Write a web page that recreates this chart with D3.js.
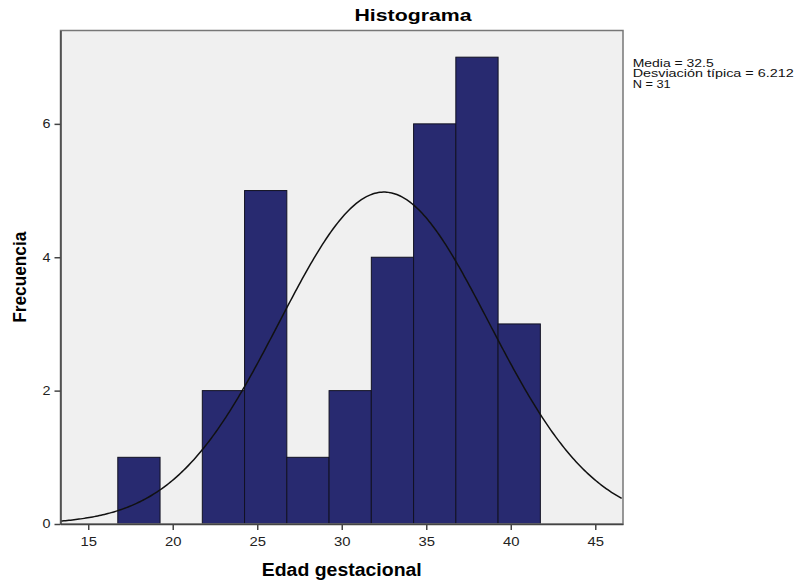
<!DOCTYPE html>
<html>
<head>
<meta charset="utf-8">
<script src="https://cdn.jsdelivr.net/npm/d3@7"></script>
<style>
  body { margin: 0; background: #fff; }
  svg text { font-family: "Liberation Sans", Arial, sans-serif; }
</style>
</head>
<body>
<div id="chart"></div>
<script>
// bins (lower edge, upper edge) and counts
var binStart = [16.75, 19.25, 21.75, 24.25, 26.75, 29.25, 31.75, 34.25, 36.75, 39.25];
var binEnd   = [19.25, 21.75, 24.25, 26.75, 29.25, 31.75, 34.25, 36.75, 39.25, 41.75];
var counts   = [1, 0, 2, 5, 1, 2, 4, 6, 7, 3];
var xTicks = [15, 20, 25, 30, 35, 40, 45];
var yTicks = [0, 2, 4, 6];
var stats = { mean: 32.5, sd: 6.212, n: 31 };
var statLines = ["Media = 32.5", "Desviación típica = 6.212", "N = 31"];

var margin = { top: 30.5, left: 60.5 },
    width = 562.5,
    height = 493.5;

var svg = d3.select("#chart")
    .append("svg")
    .attr("width", 796)
    .attr("height", 582);

var g = svg.append("g")
    .attr("transform", "translate(" + margin.left + "," + margin.top + ")");

var x = d3.scaleLinear().domain([13.36, 46.64]).range([0, width]);
var y = d3.scaleLinear().domain([0, 7.4]).range([height, 0]);

// plot background
g.append("rect")
    .attr("width", width)
    .attr("height", height)
    .attr("fill", "#f0f0f0");

// bars
var bars = binStart.map(function (d, i) { return { x0: d, x1: binEnd[i], c: counts[i] }; })
    .filter(function (d) { return d.c > 0; });

g.selectAll(".bar")
    .data(bars)
    .enter()
    .append("rect")
    .attr("class", "bar")
    .attr("x", function (d) { return x(d.x0); })
    .attr("width", function (d) { return x(d.x1) - x(d.x0); })
    .attr("y", function (d) { return y(d.c); })
    .attr("height", function (d) { return y(0) - y(d.c); })
    .attr("fill", "#282a70")
    .attr("stroke", "#111122")
    .attr("stroke-width", 1);

// normal curve from the stats
var binW = 2.5;
var curveX = d3.range(13.36, 46.65, 0.1);
var normal = function (v) {
    var z = (v - stats.mean) / stats.sd;
    return stats.n * binW / (stats.sd * Math.sqrt(2 * Math.PI)) * Math.exp(-0.5 * z * z);
};
g.append("path")
    .datum(curveX)
    .attr("fill", "none")
    .attr("stroke", "#111")
    .attr("stroke-width", 1.5)
    .attr("d", d3.line().x(function (d) { return x(d); }).y(function (d) { return y(normal(d)); }));

// frame
g.append("rect")
    .attr("width", width)
    .attr("height", height)
    .attr("fill", "none")
    .attr("stroke", "#777")
    .attr("stroke-width", 1.5);

// axes
var xAxis = g.append("g")
    .attr("transform", "translate(0," + height + ")")
    .call(d3.axisBottom(x).tickValues(xTicks).tickSize(6).tickSizeOuter(0));
var yAxis = g.append("g")
    .call(d3.axisLeft(y).tickValues(yTicks).tickSize(6).tickSizeOuter(0));

[xAxis, yAxis].forEach(function (a) {
    a.select(".domain").attr("stroke", "#444").attr("stroke-width", 1.5);
    a.selectAll(".tick line").attr("stroke", "#444").attr("stroke-width", 1.5);
    a.selectAll(".tick text")
        .attr("fill", "#222")
        .style("font-size", "12px")
        .style("font-family", "'Liberation Sans', Arial, sans-serif");
});
// source image is stretched a little horizontally
xAxis.selectAll(".tick text").attr("y", 13)
    .attr("textLength", 16.5).attr("lengthAdjust", "spacingAndGlyphs");
yAxis.selectAll(".tick text").attr("x", -10)
    .attr("textLength", 8).attr("lengthAdjust", "spacingAndGlyphs");

// title
svg.append("text")
    .attr("x", 413)
    .attr("y", 20.7)
    .attr("text-anchor", "middle")
    .attr("textLength", 117)
    .attr("lengthAdjust", "spacingAndGlyphs")
    .style("font-size", "17px")
    .style("font-weight", "bold")
    .text("Histograma");

// axis labels
svg.append("text")
    .attr("x", margin.left + width / 2)
    .attr("y", 576)
    .attr("text-anchor", "middle")
    .attr("textLength", 160)
    .attr("lengthAdjust", "spacingAndGlyphs")
    .style("font-size", "18px")
    .style("font-weight", "bold")
    .text("Edad gestacional");

svg.append("text")
    .attr("transform", "translate(25.5," + (margin.top + height / 2) + ") rotate(-90)")
    .attr("text-anchor", "middle")
    .attr("textLength", 91)
    .attr("lengthAdjust", "spacingAndGlyphs")
    .style("font-size", "17.5px")
    .style("font-weight", "bold")
    .text("Frecuencia");

// stats box
var statWidths = [81, 161, 38];
svg.selectAll(".stat")
    .data(statLines)
    .enter()
    .append("text")
    .attr("class", "stat")
    .attr("x", 632.7)
    .attr("y", function (d, i) { return 66.5 + i * 10.5; })
    .attr("textLength", function (d, i) { return statWidths[i]; })
    .attr("lengthAdjust", "spacingAndGlyphs")
    .style("font-size", "10px")
    .attr("fill", "#111")
    .text(function (d) { return d; });
</script>
</body>
</html>
